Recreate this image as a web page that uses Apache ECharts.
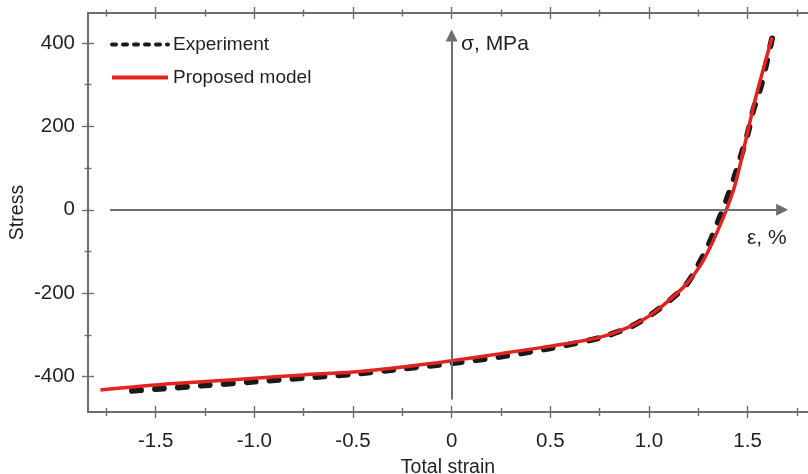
<!DOCTYPE html>
<html>
<head>
<meta charset="utf-8">
<script src="https://cdn.jsdelivr.net/npm/echarts@6/dist/echarts.min.js"></script>
<style>
  html, body { margin: 0; padding: 0; background: #ffffff; }
  #chart { width: 808px; height: 474px; }
</style>
</head>
<body>
<div id="chart"></div>
<script>
// Measured stress-strain response (total strain in %, stress in MPa)
const experimentStrain = [-1.62, -1.5, -1.25, -1.0, -0.75, -0.5, -0.25, 0, 0.25, 0.5, 0.75, 0.9, 1.0, 1.1, 1.185, 1.244, 1.308, 1.349, 1.392, 1.433, 1.467, 1.5, 1.528, 1.565, 1.594, 1.624];
const experimentStress = [-434, -430, -421, -412, -403, -394, -381, -368, -352, -332, -307, -282, -255, -219, -182, -138, -78, -30, 22, 78, 130, 182, 238, 293, 349, 411];

// Model prediction
const modelStrain = [-1.78, -1.5, -1.25, -1.0, -0.75, -0.5, -0.25, 0, 0.25, 0.5, 0.75, 0.9, 1.0, 1.1, 1.19, 1.26, 1.31, 1.354, 1.392, 1.43, 1.458, 1.497, 1.536, 1.582, 1.624];
const modelStress = [-432, -420, -412, -404, -396, -389, -377, -362, -345, -327, -306, -281, -255, -218, -178, -134, -90, -44, 0, 50, 100, 180, 260, 342, 414];

// Axis extents and tick positions
const strainRange = [-1.843, 1.806];
const stressRange = [-485, 472];
const strainMajorTicks = [-1.5, -1.0, -0.5, 0, 0.5, 1.0, 1.5];
const strainMinorTicks = [-1.75, -1.25, -0.75, -0.25, 0.25, 0.75, 1.25, 1.75];
const stressMajorTicks = [-400, -200, 0, 200, 400];
const stressMinorTicks = [-300, -100, 100, 300];

// Inner coordinate arrows (strain axis along stress = 0, stress axis along strain = 0)
const strainArrow = [-1.731, 1.675];
const stressArrow = [-455, 418];

const FONT = "'Liberation Sans', Arial, Helvetica, sans-serif";
const AXIS_GREY = '#6d6e70';
const TEXT = '#231f20';

const pairs = (xs, ys) => xs.map((x, i) => [x, ys[i]]);

const tickOnlyX = (position, values, offset, length) => ({
  type: 'value', position: position, min: strainRange[0], max: strainRange[1],
  offset: offset,
  axisLine: { show: false, onZero: false },
  axisLabel: { show: false },
  splitLine: { show: false },
  axisTick: { show: true, inside: false, length: length, customValues: values,
              lineStyle: { color: AXIS_GREY, width: 1.4 } }
});
const tickOnlyY = (position, values, offset, length) => ({
  type: 'value', position: position, min: stressRange[0], max: stressRange[1],
  offset: offset,
  axisLine: { show: false, onZero: false },
  axisLabel: { show: false },
  splitLine: { show: false },
  axisTick: { show: true, inside: false, length: length, customValues: values,
              lineStyle: { color: AXIS_GREY, width: 1.4 } }
});

const chart = echarts.init(document.getElementById('chart'), null, { renderer: 'canvas' });

chart.setOption({
  animation: false,
  backgroundColor: '#ffffff',
  textStyle: { fontFamily: FONT },
  grid: { left: 88, right: 0, top: 13, bottom: 62, containLabel: false, outerBoundsMode: 'none' },
  legend: {
    orient: 'vertical', left: 105, top: 30,
    itemWidth: 56, itemHeight: 18, itemGap: 14,
    textStyle: { fontFamily: FONT, fontSize: 19, color: TEXT },
    data: [
      { name: 'Experiment', itemStyle: { opacity: 0 },
        lineStyle: { color: '#1a1a1a', width: 4, type: [4, 7], cap: 'round' } },
      { name: 'Proposed model', itemStyle: { opacity: 0 },
        lineStyle: { color: '#e42320', width: 4 } }
    ]
  },
  xAxis: [
    {
      type: 'value', position: 'bottom', min: strainRange[0], max: strainRange[1],
      name: 'Total strain', nameLocation: 'middle', nameGap: 46, nameMoveOverlap: false,
      nameTextStyle: { fontFamily: FONT, fontSize: 19.5, color: TEXT },
      axisLine: { show: true, onZero: false, lineStyle: { color: AXIS_GREY, width: 2 } },
      axisTick: { show: false },
      splitLine: { show: false },
      axisLabel: {
        show: true, customValues: strainMajorTicks, margin: 19,
        fontFamily: FONT, fontSize: 20.5, color: TEXT,
        formatter: v => (v === 0 ? '0' : v.toFixed(1))
      }
    },
    tickOnlyX('bottom', strainMajorTicks, -6, 12),
    tickOnlyX('bottom', strainMinorTicks, -4, 8),
    {
      type: 'value', position: 'top', min: strainRange[0], max: strainRange[1],
      axisLine: { show: true, onZero: false, lineStyle: { color: AXIS_GREY, width: 2 } },
      axisTick: { show: false }, axisLabel: { show: false }, splitLine: { show: false }
    },
    tickOnlyX('top', strainMajorTicks, -6, 12),
    tickOnlyX('top', strainMinorTicks, -3.5, 7)
  ],
  yAxis: [
    {
      type: 'value', position: 'left', min: stressRange[0], max: stressRange[1],
      name: 'Stress', nameLocation: 'middle', nameGap: 60, nameMoveOverlap: false,
      nameTextStyle: { fontFamily: FONT, fontSize: 19.5, color: TEXT },
      axisLine: { show: true, onZero: false, lineStyle: { color: AXIS_GREY, width: 2 } },
      axisTick: { show: false },
      splitLine: { show: false },
      axisLabel: {
        show: true, customValues: stressMajorTicks, margin: 13,
        fontFamily: FONT, fontSize: 20.5, color: TEXT
      }
    },
    tickOnlyY('left', stressMajorTicks, -6, 12),
    tickOnlyY('left', stressMinorTicks, -3.5, 7)
  ],
  graphic: [
    { type: 'text', left: 461, top: 34, silent: true,
      style: { text: 'σ, MPa', fontFamily: FONT, fontSize: 21, fill: TEXT } },
    { type: 'text', left: 747, top: 228, silent: true,
      style: { text: 'ε, %', fontFamily: FONT, fontSize: 21, fill: TEXT } }
  ],
  series: [
    {
      name: 'coordinate arrows', type: 'line', data: [], z: 1, silent: true,
      markLine: {
        silent: true, animation: false,
        symbol: ['none', 'triangle'], symbolSize: 12,
        label: { show: false },
        lineStyle: { color: AXIS_GREY, width: 2, type: 'solid' },
        itemStyle: { color: AXIS_GREY },
        emphasis: { disabled: true },
        data: [
          [{ coord: [strainArrow[0], 0] }, { coord: [strainArrow[1], 0] }],
          [{ coord: [0, stressArrow[0]] }, { coord: [0, stressArrow[1]] }]
        ]
      }
    },
    {
      name: 'Experiment', type: 'line', z: 3,
      data: pairs(experimentStrain, experimentStress),
      showSymbol: false, symbol: 'none',
      smooth: 0.3,
      lineStyle: { color: '#1a1a1a', width: 6, type: [9, 14], cap: 'round' },
      itemStyle: { color: '#1a1a1a' }
    },
    {
      name: 'Proposed model', type: 'line', z: 4,
      data: pairs(modelStrain, modelStress),
      showSymbol: false, symbol: 'none',
      smooth: 0.3,
      lineStyle: { color: '#e42320', width: 3.5 },
      itemStyle: { color: '#e42320' }
    }
  ]
});
</script>
</body>
</html>
